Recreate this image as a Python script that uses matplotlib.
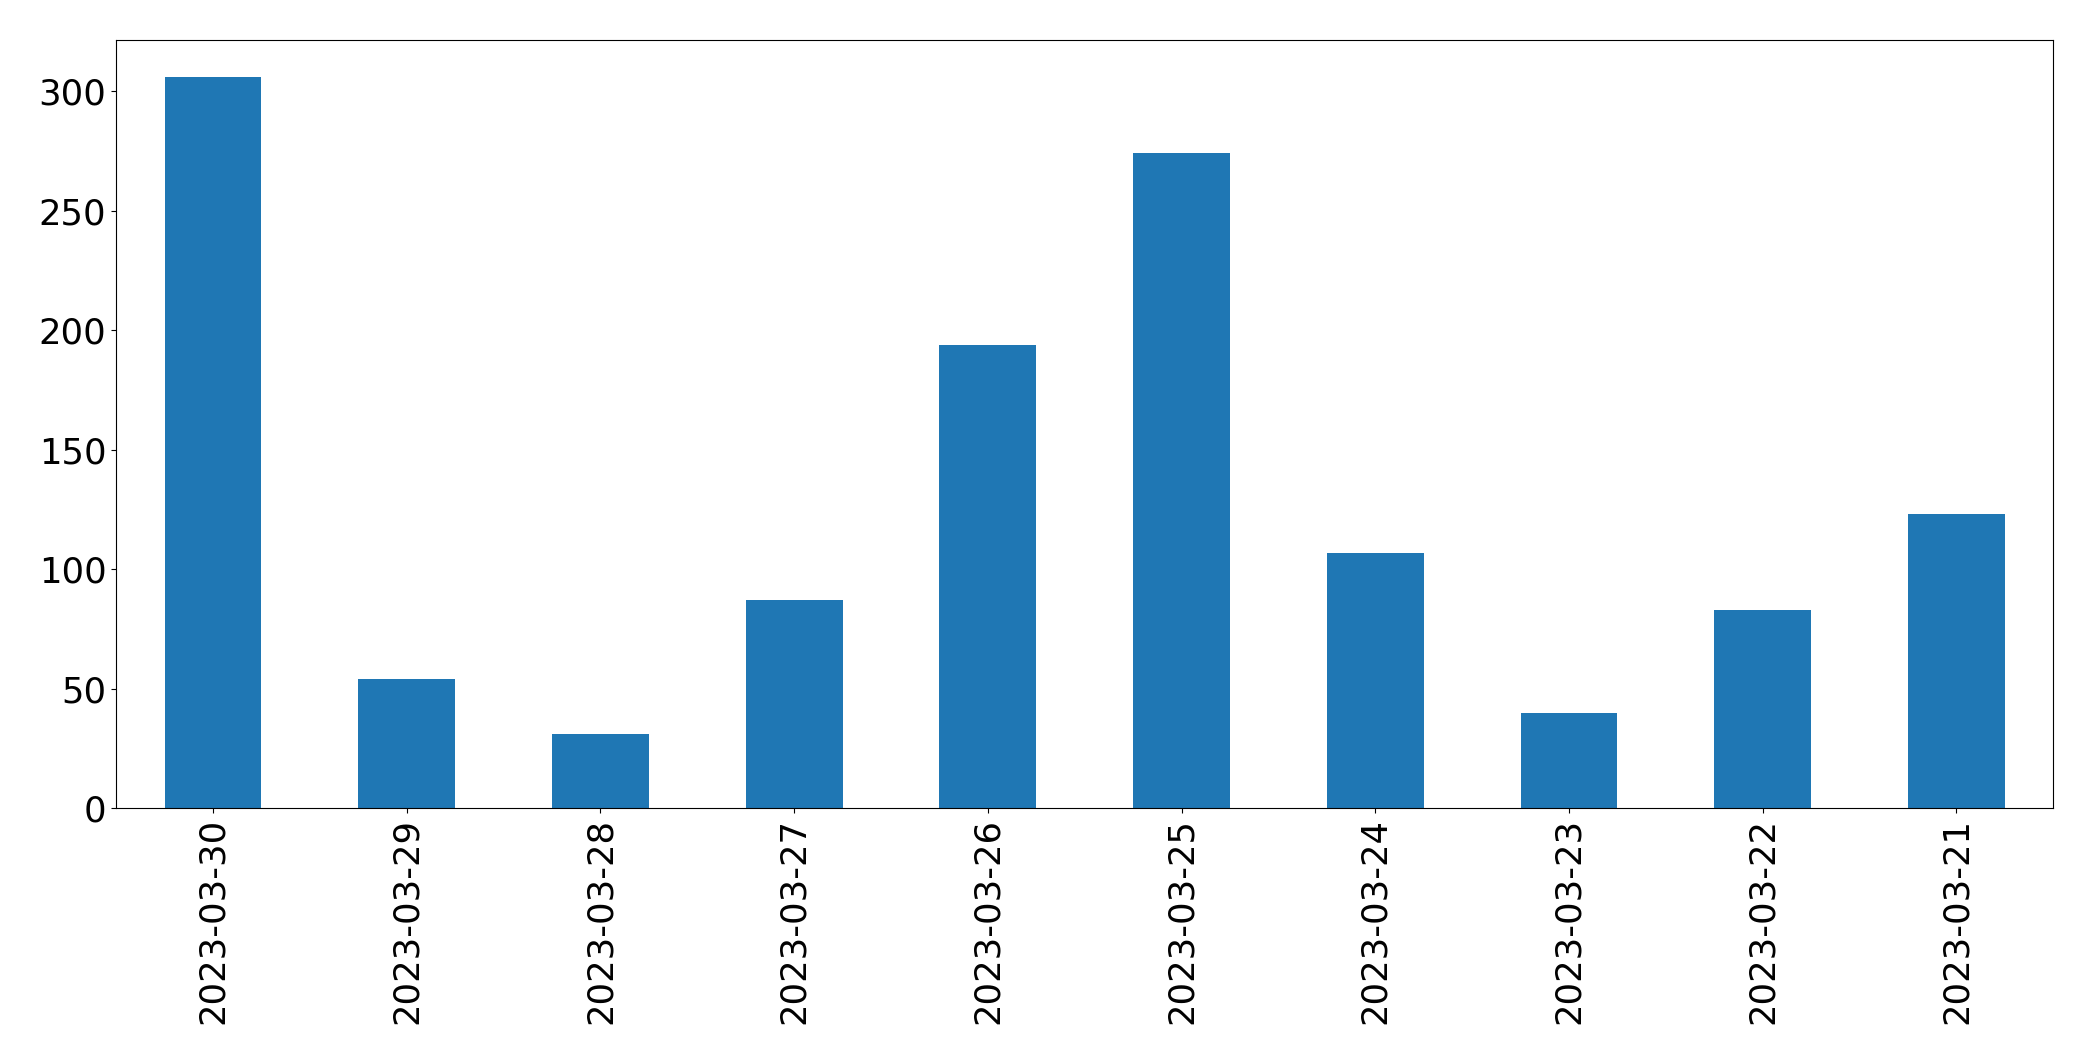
import matplotlib
matplotlib.use("Agg")
import matplotlib.pyplot as plt

dates = ["2023-03-30", "2023-03-29", "2023-03-28", "2023-03-27", "2023-03-26",
         "2023-03-25", "2023-03-24", "2023-03-23", "2023-03-22", "2023-03-21"]
counts = [306, 54, 31, 87, 194, 274, 107, 40, 83, 123]
yticks = [0, 50, 100, 150, 200, 250, 300]

fig = plt.figure(figsize=(20.93, 10.61), dpi=100)
ax = fig.add_axes([0.0555, 0.238, 0.9255, 0.724])
x = list(range(len(dates)))
ax.bar(x, counts, width=0.5, color="#1f77b4")
ax.set_xlim(-0.5, len(dates) - 0.5)
ax.set_ylim(0, 321.3)
ax.set_xticks(x)
ax.set_xticklabels(dates, rotation=90, fontsize=25.5)
ax.set_yticks(yticks)
ax.tick_params(axis="y", labelsize=25.5)
fig.savefig("out.png", dpi=100)
